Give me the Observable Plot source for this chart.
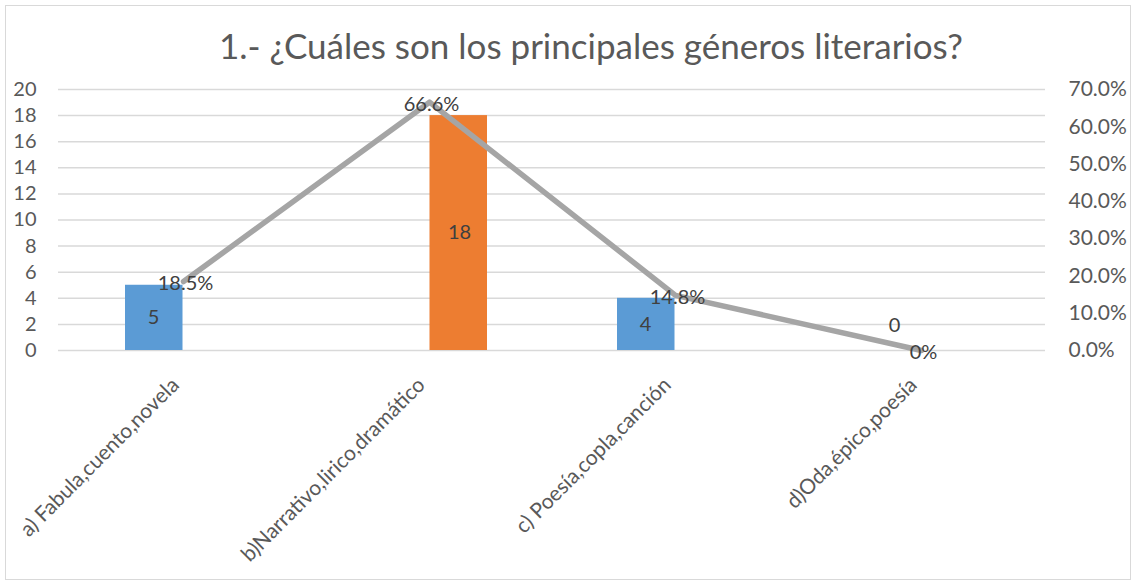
<!DOCTYPE html>
<html>
<head>
<meta charset="utf-8">
<script src="https://cdn.jsdelivr.net/npm/d3@7"></script>
<script src="https://cdn.jsdelivr.net/npm/@observablehq/plot@0.6"></script>
<style>
  html, body { margin: 0; padding: 0; background: #fff; }
  #wrap { position: relative; width: 1133px; height: 584px; overflow: hidden; }
  #frame { position: absolute; left: 5px; top: 5px; width: 1126px; height: 575px; border: 1.5px solid #d9d9d9; box-sizing: border-box; }
  #title { position: absolute; left: 0; width: 1182px; top: 24px; text-align: center; font-family: Lato, sans-serif; font-size: 35px; color: #595959; white-space: nowrap; }
  #chart { position: absolute; left: 0; top: 0; }
</style>
</head>
<body>
<div id="wrap">
  <div id="frame"></div>
  <div id="chart"></div>
  <div id="title">1.- ¿Cuáles son los principales géneros literarios?</div>
</div>
<script>
const categories = ["a) Fabula,cuento,novela", "b)Narrativo,lirico,dramático", "c) Poesía,copla,canción", "d)Oda,épico,poesía"];
const serieAzul = [5, null, 4, 0];
const serieNaranja = [null, 18, null, null];
const porcentajes = [18.5, 66.6, 14.8, 0];
const etiquetasPct = ["18.5%", "66.6%", "14.8%", "0%"];
const ticksIzq = [0, 2, 4, 6, 8, 10, 12, 14, 16, 18, 20];
const ticksDer = [0, 10, 20, 30, 40, 50, 60, 70];
const maxIzq = 20, maxDer = 70;

const azul = categories.map((c, i) => ({cat: c, v: serieAzul[i]})).filter(d => d.v != null);
const naranja = categories.map((c, i) => ({cat: c, v: serieNaranja[i]})).filter(d => d.v != null);
const linea = categories.map((c, i) => ({cat: c, y: porcentajes[i] * maxIzq / maxDer, label: etiquetasPct[i]}));

const chart = Plot.plot({
  width: 1133,
  height: 584,
  marginLeft: 58,
  marginRight: 88,
  marginTop: 89,
  marginBottom: 234,
  style: {fontFamily: "Lato, sans-serif", fontSize: "20px", color: "#595959", background: "transparent", overflow: "visible"},
  x: {domain: categories, padding: 0, label: null},
  y: {domain: [0, maxIzq], label: null},
  marks: [
    Plot.gridY(ticksIzq, {stroke: "#d9d9d9", strokeOpacity: 1, strokeWidth: 1.5}),
    Plot.axisY({ticks: ticksIzq, tickSize: 0, tickPadding: 22, label: null}),
    Plot.axisY({anchor: "right", ticks: ticksDer.map(p => p * maxIzq / maxDer), tickFormat: d => (d * maxDer / maxIzq).toFixed(1) + "%", tickSize: 0, tickPadding: 23, fontSize: 21, label: null}),
    Plot.axisX({tickRotate: -45, tickSize: 0, tickPadding: 12, dx: -8, dy: 19, fontSize: 21, label: null}),
    Plot.barY(azul, {x: "cat", y: "v", fill: "#5B9BD5", insetLeft: 65, insetRight: 123.5}),
    Plot.barY(naranja, {x: "cat", y: "v", fill: "#ED7D31", insetLeft: 123.5, insetRight: 65}),
    Plot.line(linea, {x: "cat", y: "y", stroke: "#A5A5A5", strokeWidth: 5.5}),
    Plot.text(azul.filter(d => d.v > 0), {x: "cat", y: d => d.v / 2, text: d => String(d.v), dx: -30, fill: "#404040"}),
    Plot.text(azul.filter(d => d.v === 0), {x: "cat", y: "v", text: d => String(d.v), dx: -27, dy: -25, fill: "#404040"}),
    Plot.text(naranja, {x: "cat", y: d => d.v / 2, text: d => String(d.v), dx: 30, fill: "#404040"}),
    Plot.text(linea, {x: "cat", y: "y", text: "label", dx: 2, dy: 2, fill: "#404040"})
  ]
});
document.getElementById("chart").appendChild(chart);
</script>
</body>
</html>
